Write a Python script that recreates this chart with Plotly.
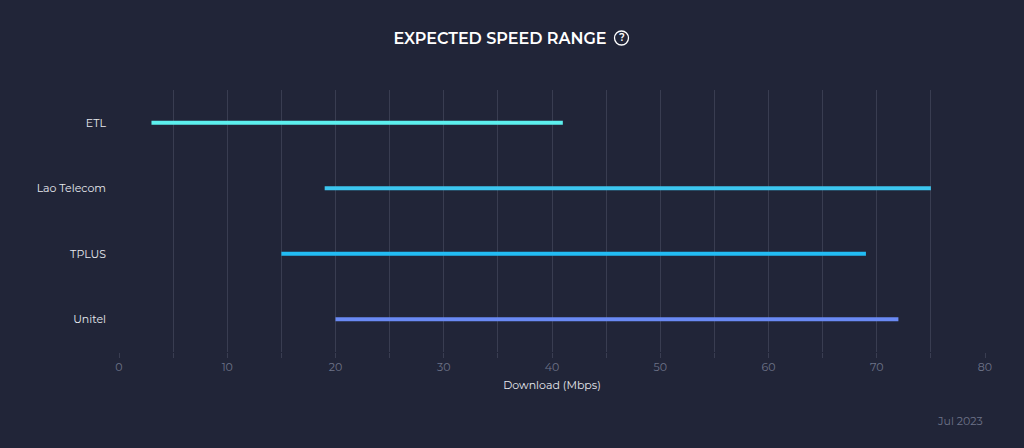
import plotly.graph_objects as go

providers = ["ETL", "Lao Telecom", "TPLUS", "Unitel"]
low_mbps = [3, 19, 15, 20]
high_mbps = [41, 75, 69, 72]
colors = ["#5cf0ee", "#3cc6ef", "#22bcf4", "#6a8af4"]
x_ticks = [0, 10, 20, 30, 40, 50, 60, 70, 80]

BG = "#212538"
GRID = "#393d51"
FONT = "Montserrat, 'Open Sans', Lato, sans-serif"

fig = go.Figure()
for name, lo, hi, c in zip(providers, low_mbps, high_mbps, colors):
    fig.add_trace(go.Scatter(
        x=[lo, hi], y=[name, name], mode="lines",
        line=dict(color=c, width=4), showlegend=False, hoverinfo="skip"))

fig.update_layout(
    width=1024, height=448,
    paper_bgcolor=BG, plot_bgcolor=BG,
    margin=dict(l=119, r=39, t=90, b=96),
    font=dict(family=FONT, color="#e6e8ee", size=11),
    title=dict(text="EXPECTED SPEED RANGE", x=0.4883, xanchor="center",
               y=0.915, yanchor="middle",
               font=dict(size=16, color="#ffffff", family=FONT, weight=600)),
    xaxis=dict(range=[0, 80], tickvals=x_ticks, showgrid=True, gridcolor=GRID,
               gridwidth=1, zeroline=False, showline=False,
               ticks="outside", ticklen=5, tickcolor=GRID,
               minor=dict(dtick=5, tick0=0, showgrid=True, gridcolor=GRID,
                          ticks="outside", ticklen=5, tickcolor=GRID),
               tickfont=dict(color="#6d7388", size=11),
               title=dict(text="Download (Mbps)", standoff=8,
                          font=dict(color="#e6e8ee", size=11))),
    yaxis=dict(categoryorder="array", categoryarray=providers[::-1],
               range=[-0.5, 3.5], showgrid=False, zeroline=False,
               ticks="", ticklabelstandoff=12,
               tickfont=dict(color="#e6e8ee", size=11)),
)

# question-mark icon next to the title
fig.add_shape(type="circle", xref="paper", yref="paper",
              x0=(614.5 - 119) / 866, x1=(628.5 - 119) / 866,
              y0=(448 - 96 - 45) / 262, y1=(448 - 96 - 31) / 262,
              line=dict(color="#ffffff", width=1.3))
fig.add_annotation(text="?", xref="paper", yref="paper",
                   x=(621.5 - 119) / 866, y=(448 - 96 - 38) / 262,
                   showarrow=False, font=dict(size=10, color="#ffffff", family=FONT, weight=600),
                   xanchor="center", yanchor="middle")

fig.add_annotation(text="Jul 2023", xref="paper", yref="paper",
                   x=(985 - 119) / 866, y=(448 - 96 - 421) / 262,
                   xanchor="right", yanchor="middle", showarrow=False,
                   font=dict(size=11, color="#6d7388", family=FONT))

fig.write_html("out.html", config={"displayModeBar": False},
               post_script="document.body.style.margin='0';document.body.style.background='#212538';")
